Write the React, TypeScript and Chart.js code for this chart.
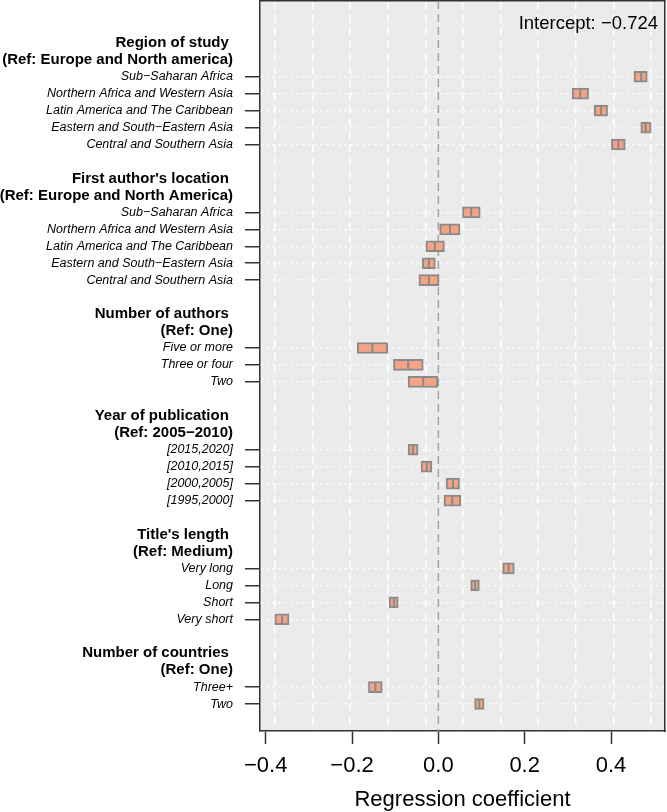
import React, { useEffect, useRef } from 'react';
import { Chart, registerables } from 'chart.js';

Chart.register(...registerables);

const MINUS = '\u2212';

// ---- data ----
const groupTitles = [
  'Region of study',
  "First author's location",
  'Number of authors',
  'Year of publication',
  "Title's length",
  'Number of countries',
];
const groupRefs = [
  '(Ref: Europe and North america)',
  '(Ref: Europe and North America)',
  '(Ref: One)',
  '(Ref: 2005\u22122010)',
  '(Ref: Medium)',
  '(Ref: One)',
];
const groupSizes = [5, 5, 3, 4, 4, 2];

const itemLabels = [
  'Sub\u2212Saharan Africa',
  'Northern Africa and Western Asia',
  'Latin America and The Caribbean',
  'Eastern and South\u2212Eastern Asia',
  'Central and Southern Asia',
  'Sub\u2212Saharan Africa',
  'Northern Africa and Western Asia',
  'Latin America and The Caribbean',
  'Eastern and South\u2212Eastern Asia',
  'Central and Southern Asia',
  'Five or more',
  'Three or four',
  'Two',
  '[2015,2020]',
  '[2010,2015]',
  '[2000,2005]',
  '[1995,2000]',
  'Very long',
  'Long',
  'Short',
  'Very short',
  'Three+',
  'Two',
];

const lowValues = [
  0.453, 0.310, 0.361, 0.469, 0.401,
  0.056, 0.003, -0.029, -0.037, -0.045,
  -0.188, -0.104, -0.070,
  -0.070, -0.040, 0.018, 0.013,
  0.149, 0.075, -0.114, -0.379,
  -0.162, 0.084,
];
const estimates = [
  0.470, 0.329, 0.377, 0.480, 0.417,
  0.076, 0.027, -0.008, -0.022, -0.022,
  -0.153, -0.070, -0.035,
  -0.059, -0.027, 0.034, 0.032,
  0.163, 0.085, -0.103, -0.362,
  -0.146, 0.095,
];
const highValues = [
  0.484, 0.348, 0.392, 0.493, 0.433,
  0.097, 0.050, 0.014, -0.007, 0.0015,
  -0.117, -0.035, 0.000,
  -0.047, -0.015, 0.049, 0.052,
  0.176, 0.095, -0.093, -0.346,
  -0.130, 0.106,
];

const xTickValues = [-0.4, -0.2, 0, 0.2, 0.4];
const gridValues = [-0.3785, -0.2914, -0.2043, -0.1171, -0.03, 0.0571, 0.1442, 0.2314, 0.3185, 0.4056, 0.4927];
const intercept = -0.724;

const xMin = -0.4132;
const xMax = 0.5251;
const yMin = -2.466;
const yMax = 40.59;

// ---- slot structure (rows) ----
type Slot = { label: string; kind: 'header' | 'item' | 'blank' };
const slots: Slot[] = [];
const itemSlots: number[] = [];
{
  let k = 0;
  groupTitles.forEach((t, g) => {
    if (g > 0) slots.push({ label: '', kind: 'blank' });
    slots.push({ label: t + ' ', kind: 'header' });
    slots.push({ label: groupRefs[g], kind: 'header' });
    for (let j = 0; j < groupSizes[g]; j++) {
      itemSlots.push(slots.length);
      slots.push({ label: itemLabels[k++], kind: 'item' });
    }
  });
}

const fmt = (v: number, d: number) => v.toFixed(d).replace('-', MINUS);

const FONT = '"Liberation Sans", Arial, Helvetica, sans-serif';

const zeroPad = (s: any) => {
  s.paddingTop = 0;
  s.paddingBottom = 0;
  s.paddingLeft = 0;
  s.paddingRight = 0;
};

const plotBg = {
  id: 'plotBg',
  beforeDraw(chart: any) {
    const { ctx, chartArea } = chart;
    ctx.save();
    ctx.fillStyle = '#EBEBEB';
    ctx.fillRect(chartArea.left, chartArea.top, chartArea.right - chartArea.left, chartArea.bottom - chartArea.top);
    ctx.restore();
  },
};

const interceptLabel = {
  id: 'interceptLabel',
  afterDraw(chart: any) {
    const { ctx, chartArea } = chart;
    ctx.save();
    ctx.font = `18.5px ${FONT}`;
    ctx.fillStyle = '#000';
    ctx.textAlign = 'right';
    ctx.textBaseline = 'alphabetic';
    ctx.fillText(`Intercept: ${fmt(intercept, 3)}`, chartArea.right - 7, chartArea.top + 28.3);
    ctx.restore();
  },
};

export default function App() {
  const ref = useRef<HTMLCanvasElement | null>(null);

  useEffect(() => {
    const canvas = ref.current;
    if (!canvas) return;
    Chart.defaults.font.family = FONT;

    const barData = itemSlots.map((s, i) => ({ x: [lowValues[i], highValues[i]], y: s }));
    const midData = itemSlots.map((s, i) => ({ x: estimates[i], y: s }));

    const chart = new Chart(canvas, {
      type: 'bar',
      data: {
        datasets: [
          {
            type: 'line',
            data: [
              { x: 0, y: yMin },
              { x: 0, y: yMax },
            ],
            borderColor: '#a3a3a3',
            borderWidth: 1.5,
            borderDash: [8, 5],
            pointRadius: 0,
            order: 3,
            xAxisID: 'x',
            yAxisID: 'y',
          } as any,
          {
            type: 'bar',
            indexAxis: 'y',
            data: barData as any,
            backgroundColor: '#F4A385',
            borderColor: '#8a8a8a',
            borderWidth: 2,
            borderSkipped: false,
            barThickness: 11,
            order: 2,
            xAxisID: 'x',
            yAxisID: 'y',
          } as any,
          {
            type: 'scatter',
            data: midData,
            pointStyle: 'line',
            pointRotation: 90,
            pointRadius: 5,
            pointBorderColor: '#8a8a8a',
            pointBorderWidth: 2,
            borderColor: '#8a8a8a',
            showLine: false,
            order: 1,
            xAxisID: 'x',
            yAxisID: 'y',
          } as any,
        ],
      },
      options: {
        animation: false,
        responsive: false,
        devicePixelRatio: 1,
        events: [],
        layout: { padding: 0, autoPadding: false },
        plugins: {
          legend: { display: false },
          tooltip: { enabled: false },
          title: { display: false },
        },
        scales: {
          x: {
            type: 'linear',
            position: 'bottom',
            min: xMin,
            max: xMax,
            offset: false,
            afterBuildTicks: (s: any) => {
              s.ticks = xTickValues.map((v) => ({ value: v }));
            },
            afterFit: (s: any) => {
              s.height = 81;
              zeroPad(s);
            },
            ticks: {
              color: '#000',
              font: { size: 22 },
              padding: 9,
              autoSkip: false,
              maxRotation: 0,
              callback: (v: any) => fmt(Number(v), 1),
            },
            grid: {
              offset: false,
              drawOnChartArea: false,
              drawTicks: true,
              tickLength: 13,
              tickColor: '#333',
              tickWidth: 1.5,
            },
            border: { display: true, color: '#333', width: 1.5 },
            title: {
              display: true,
              text: 'Regression coefficient',
              color: '#000',
              font: { size: 22, lineHeight: 1.1 },
              padding: { top: 0, bottom: 0 },
            },
          },
          xGrid: {
            type: 'linear',
            position: 'top',
            min: xMin,
            max: xMax,
            offset: false,
            afterBuildTicks: (s: any) => {
              s.ticks = gridValues.map((v) => ({ value: v }));
            },
            afterFit: (s: any) => {
              s.height = 1;
              zeroPad(s);
            },
            ticks: { display: false },
            grid: { offset: false, color: '#ffffff', lineWidth: 1.5, drawTicks: false },
            border: { display: true, color: '#333', width: 1.5, dash: [8, 5] },
          },
          y: {
            type: 'linear',
            position: 'left',
            min: yMin,
            max: yMax,
            reverse: true,
            offset: false,
            afterBuildTicks: (s: any) => {
              s.ticks = slots.map((_, i) => ({ value: i }));
            },
            afterFit: (s: any) => {
              s.width = 260;
              zeroPad(s);
            },
            ticks: {
              autoSkip: false,
              color: '#000',
              padding: 12,
              callback: (_v: any, i: number) => (slots[i] ? slots[i].label : ''),
              font: (c: any) =>
                slots[c.index] && slots[c.index].kind === 'header'
                  ? { size: 15, weight: 'bold', style: 'normal' }
                  : { size: 12.5, style: 'italic', weight: 'normal' },
            },
            grid: {
              offset: false,
              color: (c: any) => (slots[c.index] && slots[c.index].kind === 'item' ? '#ffffff' : 'rgba(0,0,0,0)'),
              lineWidth: 1.5,
              drawTicks: true,
              tickLength: 15,
              tickWidth: 1.5,
              tickColor: (c: any) => (slots[c.index] && slots[c.index].kind === 'item' ? '#333' : 'rgba(0,0,0,0)'),
            },
            border: { display: true, color: '#333', width: 1.5, dash: [2, 4] },
          },
          yRight: {
            type: 'linear',
            position: 'right',
            min: yMin,
            max: yMax,
            offset: false,
            afterFit: (s: any) => {
              s.width = 2;
              zeroPad(s);
            },
            ticks: { display: false },
            grid: { display: false, offset: false },
            border: { display: true, color: '#333', width: 1.5 },
          },
        },
      } as any,
      plugins: [plotBg, interceptLabel],
    });

    return () => chart.destroy();
  }, []);

  return (
    <div style={{ position: 'fixed', left: 0, top: 0, width: 667, height: 812, background: '#fff' }}>
      <canvas ref={ref} width={667} height={812} style={{ display: 'block', width: 667, height: 812 }} />
    </div>
  );
}
